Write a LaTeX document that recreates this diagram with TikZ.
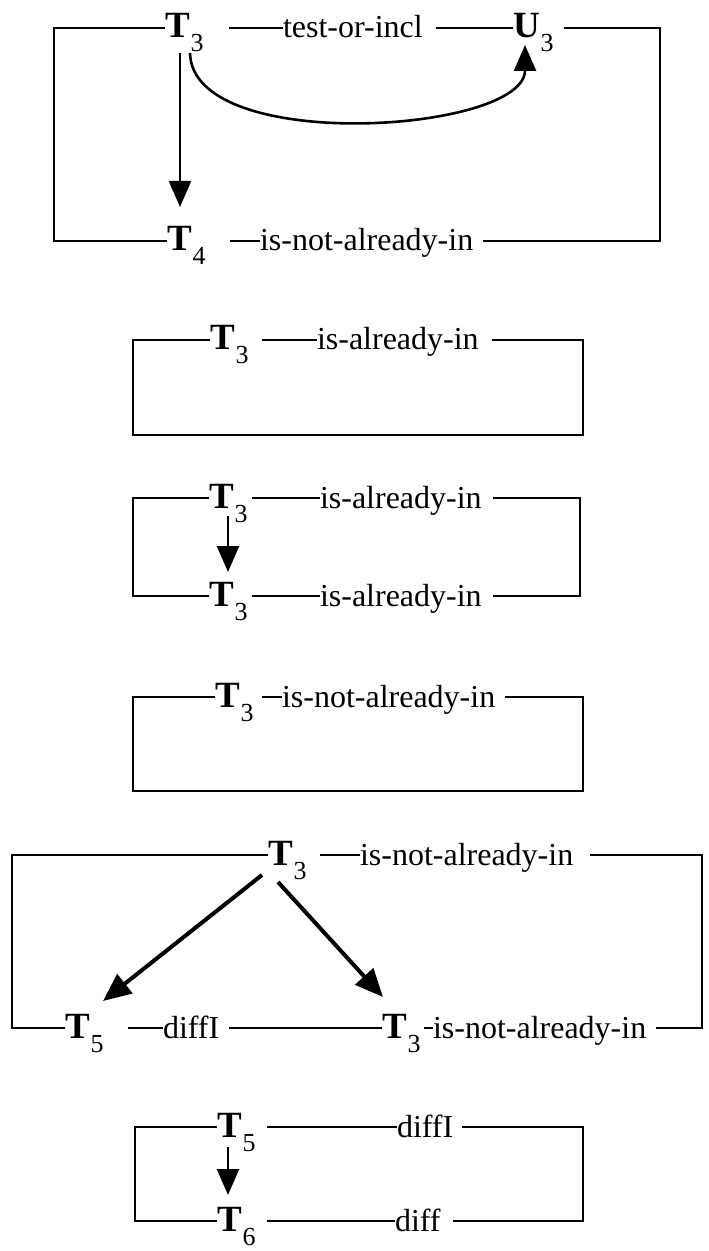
\documentclass[tikz,border=0pt]{standalone}
\usepackage{fontspec}
\setmainfont{Liberation Serif}
\usetikzlibrary{arrows.meta}
\newcommand{\lab}{\fontsize{16pt}{19pt}\selectfont}
\newcommand{\Tsub}[2]{{\fontsize{18.5pt}{20pt}\selectfont\textbf{#1}}\kern0.5pt\raisebox{-7pt}{\fontsize{13pt}{13pt}\selectfont #2}}
\tikzset{
  txt/.style={anchor=base west, inner sep=0pt, outer sep=0pt, font=\lab},
  ln/.style={line width=1.4pt, line join=miter},
  lv/.style={yshift=5pt},
  arr/.style={line width=1.3pt, -{Triangle[length=13pt,width=11pt]}},
  arrb/.style={line width=2pt, -{Triangle[length=14pt,width=12pt]}}
}
\begin{document}
\begin{tikzpicture}[x=0.5pt,y=-0.5pt]
\useasboundingbox (0,0) rectangle (708,1251);
% ---------- box 1
\coordinate (b1tl) at (54,28);
\coordinate (b1tr) at (660,28);
\coordinate (b1bl) at (54,241);
\coordinate (b1br) at (660,241);
\node[txt] (t1a) at (165,38) {\Tsub{T}{3}};
\node[txt] (l1a) at (283,38) {test-or-incl};
\node[txt] (u1) at (513,38) {\Tsub{U}{3}};
\node[txt] (t1b) at (167,251) {\Tsub{T}{4}};
\node[txt] (l1b) at (260,251) {is-not-already-in};
\draw[ln] ([lv]t1a.base west) -- (b1tl) -- (b1bl) -- ([lv]t1b.base west);
\draw[ln] ([lv,xshift=12.5pt]t1a.base east) -- ([lv]l1a.base west);
\draw[ln] ([lv,xshift=6.5pt]l1a.base east) -- ([lv]u1.base west);
\draw[ln] ([lv,xshift=5pt]u1.base east) -- (b1tr) -- (b1br) -- ([lv,xshift=5pt]l1b.base east);
\draw[ln] ([lv,xshift=12pt]t1b.base east) -- ([lv]l1b.base west);
\draw[arr] ([shift={(15,15)}]t1a.base west) -- ([shift={(13,-44)}]t1b.base west);
\draw[arr] ([shift={(25,15)}]t1a.base west) .. controls +(2,102) and +(0,88) .. ([shift={(12,7)}]u1.base west);
% ---------- box 2
\coordinate (b2tl) at (133,340);
\coordinate (b2tr) at (583,340);
\coordinate (b2bl) at (133,435);
\coordinate (b2br) at (583,435);
\node[txt] (t2) at (210,350) {\Tsub{T}{3}};
\node[txt] (l2) at (317,350) {is-already-in};
\draw[ln] ([lv]t2.base west) -- (b2tl) -- (b2bl) -- (b2br) -- (b2tr) -- ([lv,xshift=6.5pt]l2.base east);
\draw[ln] ([lv,xshift=6.5pt]t2.base east) -- ([lv]l2.base west);
% ---------- box 3
\coordinate (b3tl) at (133,498);
\coordinate (b3tr) at (580,498);
\coordinate (b3bl) at (133,596);
\coordinate (b3br) at (580,596);
\node[txt] (t3a) at (209,508) {\Tsub{T}{3}};
\node[txt] (l3a) at (320,508) {is-already-in};
\node[txt] (t3b) at (209,606) {\Tsub{T}{3}};
\node[txt] (l3b) at (320,606) {is-already-in};
\draw[ln] ([lv]t3a.base west) -- (b3tl) -- (b3bl) -- ([lv]t3b.base west);
\draw[ln] ([lv,xshift=2pt]t3a.base east) -- ([lv]l3a.base west);
\draw[ln] ([lv,xshift=2pt]t3b.base east) -- ([lv]l3b.base west);
\draw[ln] ([lv,xshift=5.5pt]l3a.base east) -- (b3tr) -- (b3br) -- ([lv,xshift=5.5pt]l3b.base east);
\draw[arr] ([shift={(19,8)}]t3a.base west) -- ([shift={(19,-34)}]t3b.base west);
% ---------- box 4
\coordinate (b4tl) at (133,697);
\coordinate (b4tr) at (583,697);
\coordinate (b4bl) at (133,791);
\coordinate (b4br) at (583,791);
\node[txt] (t4) at (215,707) {\Tsub{T}{3}};
\node[txt] (l4) at (282,707) {is-not-already-in};
\draw[ln] ([lv]t4.base west) -- (b4tl) -- (b4bl) -- (b4br) -- (b4tr) -- ([lv,xshift=5pt]l4.base east);
\draw[ln] ([lv,xshift=4pt]t4.base east) -- ([lv]l4.base west);
% ---------- box 5
\coordinate (b5tl) at (12,855);
\coordinate (b5tr) at (702,855);
\coordinate (b5bl) at (12,1028);
\coordinate (b5br) at (702,1028);
\node[txt] (t5a) at (268,865) {\Tsub{T}{3}};
\node[txt] (l5a) at (360,865) {is-not-already-in};
\node[txt] (t5b) at (65,1038) {\Tsub{T}{5}};
\node[txt] (l5b) at (163,1038) {diffI};
\node[txt] (t5c) at (382,1038) {\Tsub{T}{3}};
\node[txt] (l5c) at (433,1038) {is-not-already-in};
\draw[ln] ([lv]t5a.base west) -- (b5tl) -- (b5bl) -- ([lv]t5b.base west);
\draw[ln] ([lv,xshift=6.5pt]t5a.base east) -- ([lv]l5a.base west);
\draw[ln] ([lv,xshift=8.5pt]l5a.base east) -- (b5tr) -- (b5br) -- ([lv,xshift=5pt]l5c.base east);
\draw[ln] ([lv,xshift=12pt]t5b.base east) -- ([lv]l5b.base west);
\draw[ln] ([lv,xshift=5pt]l5b.base east) -- ([lv]t5c.base west);
\draw[ln] ([lv,xshift=1.5pt]t5c.base east) -- ([lv]l5c.base west);
\draw[arrb] ([shift={(-6,10)}]t5a.base west) -- ([shift={(38,-37)}]t5b.base west);
\draw[arrb] ([shift={(10,17)}]t5a.base west) -- ([shift={(1,-41)}]t5c.base west);
% ---------- box 6
\coordinate (b6tl) at (135,1127);
\coordinate (b6tr) at (583,1127);
\coordinate (b6bl) at (135,1221);
\coordinate (b6br) at (583,1221);
\node[txt] (t6a) at (217,1137) {\Tsub{T}{5}};
\node[txt] (l6a) at (397,1137) {diffI};
\node[txt] (t6b) at (217,1231) {\Tsub{T}{6}};
\node[txt] (l6b) at (395,1231) {diff};
\draw[ln] ([lv]t6a.base west) -- (b6tl) -- (b6bl) -- ([lv]t6b.base west);
\draw[ln] ([lv,xshift=5.5pt]t6a.base east) -- ([lv]l6a.base west);
\draw[ln] ([lv,xshift=5.5pt]t6b.base east) -- ([lv]l6b.base west);
\draw[ln] ([lv,xshift=4.5pt]l6a.base east) -- (b6tr) -- (b6br) -- ([lv,xshift=6pt]l6b.base east);
\draw[arr] ([shift={(11,10)}]t6a.base west) -- ([shift={(11,-36)}]t6b.base west);
\end{tikzpicture}
\end{document}
